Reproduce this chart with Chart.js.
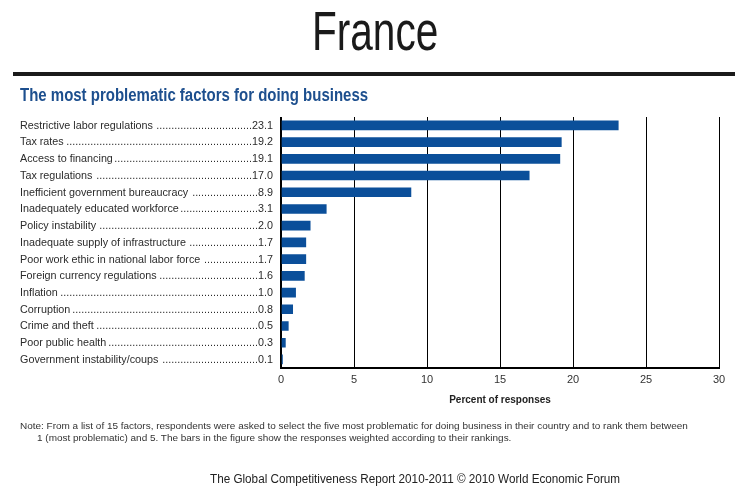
<!DOCTYPE html>
<html>
<head>
<meta charset="utf-8">
<script src="https://cdn.jsdelivr.net/npm/chart.js@4.4.0/dist/chart.umd.min.js"></script>
<style>
  body { margin: 0; background: #fff; font-family: "Liberation Sans", Arial, sans-serif; }
  #wrap { position: relative; width: 750px; height: 491px; overflow: hidden; }
  canvas { position: absolute; left: 0; top: 0; }
  .t { position: absolute; white-space: nowrap; transform-origin: 0 0; line-height: 1; }
  #rule { position: absolute; left: 13px; top: 72px; width: 722px; height: 4px; background: #1a1a1a; }
</style>
</head>
<body>
<div id="wrap">
  <canvas id="chart" width="750" height="491"></canvas>
  <div class="t" data-x="312" data-w="126" style="top:3px;font-size:56px;color:#1a1a1a">France</div>
  <div id="rule"></div>
  <div class="t" data-x="20" data-w="348" style="top:86px;font-size:18px;font-weight:bold;color:#1d4f8e">The most problematic factors for doing business</div>
  <div class="t" id="note1" data-x="20" data-w="668" style="top:421px;font-size:9.5px;color:#333">Note: From a list of 15 factors, respondents were asked to select the five most problematic for doing business in their country and to rank them between</div>
  <div class="t" id="note2" data-x="37" style="top:433px;font-size:9.5px;color:#333">1 (most problematic) and 5. The bars in the figure show the responses weighted according to their rankings.</div>
  <div class="t" data-x="210" data-w="410" style="top:473px;font-size:12.5px;color:#222">The Global Competitiveness Report 2010-2011 © 2010 World Economic Forum</div>
</div>
<script>
// === Data ===
const factors = [
    "Restrictive labor regulations",
    "Tax rates",
    "Access to financing",
    "Tax regulations",
    "Inefficient government bureaucracy",
    "Inadequately educated workforce",
    "Policy instability",
    "Inadequate supply of infrastructure",
    "Poor work ethic in national labor force",
    "Foreign currency regulations",
    "Inflation",
    "Corruption",
    "Crime and theft",
    "Poor public health",
    "Government instability/coups",
];
const percents = [23.1, 19.2, 19.1, 17.0, 8.9, 3.1, 2.0, 1.7, 1.7, 1.6, 1.0, 0.8, 0.5, 0.3, 0.1];
const xMin = 0, xMax = 30, xStep = 5;

const FONT = '"Liberation Sans", Arial, sans-serif';

// fit the html texts to their widths in the reference
document.querySelectorAll(".t").forEach(el => {
    el.style.left = el.dataset.x + "px";
});
let noteScale = 1;
document.querySelectorAll(".t[data-w]").forEach(el => {
    const k = Number(el.dataset.w) / el.offsetWidth;
    el.style.transform = `scaleX(${k})`;
    if (el.id === "note1") noteScale = k;
});
document.getElementById("note2").style.transform = `scaleX(${noteScale})`;

// === Row labels with dotted leaders, drawn from the y scale ===
const factorLabels = {
    id: "factorLabels",
    afterDraw(chart) {
        const { ctx } = chart;
        const y = chart.scales.y;
        ctx.save();
        ctx.font = "10.5px " + FONT;
        ctx.fillStyle = "#2b2b2b";
        ctx.textBaseline = "middle";
        const k = 133 / ctx.measureText(factors[0]).width;
        const left = 20, right = 273;
        const dotW = ctx.measureText(".").width * k;
        factors.forEach((name, i) => {
            const yy = y.getPixelForValue(i) + 0.5;
            const val = percents[i].toFixed(1);
            const wName = ctx.measureText(name).width * k;
            const wVal = ctx.measureText(val).width * k;
            const gap = (right - wVal) - (left + wName) - 1;
            const n = Math.max(0, Math.floor(gap / dotW));
            const draw = (txt, x) => {
                ctx.save();
                ctx.translate(x, yy);
                ctx.scale(k, 1);
                ctx.fillText(txt, 0, 0);
                ctx.restore();
            };
            draw(name, left);
            draw(".".repeat(n), right - wVal - n * dotW);
            draw(val, right - wVal);
        });
        ctx.restore();
    }
};

new Chart(document.getElementById("chart"), {
    type: "bar",
    data: {
        labels: factors,
        datasets: [{
            data: percents,
            backgroundColor: "#0b4f9a",
            barThickness: 9,
        }]
    },
    options: {
        indexAxis: "y",
        responsive: false,
        animation: false,
        layout: { padding: { left: 281, right: 31, top: 117, bottom: 85 } },
        plugins: { legend: { display: false }, tooltip: { enabled: false } },
        scales: {
            x: {
                min: xMin, max: xMax,
                ticks: { stepSize: xStep, color: "#333", font: { family: FONT, size: 11 }, padding: 6 },
                grid: { color: "#000", lineWidth: c => (c.index === 0 ? 2 : 1), drawTicks: false },
                border: { color: "#000", width: 2 },
                title: {
                    display: true, text: "Percent of responses", color: "#222",
                    font: { family: FONT, size: 10, weight: "bold" },
                    padding: { top: 1, bottom: 0 }
                }
            },
            y: { display: false }
        }
    },
    plugins: [factorLabels]
});
</script>
</body>
</html>
